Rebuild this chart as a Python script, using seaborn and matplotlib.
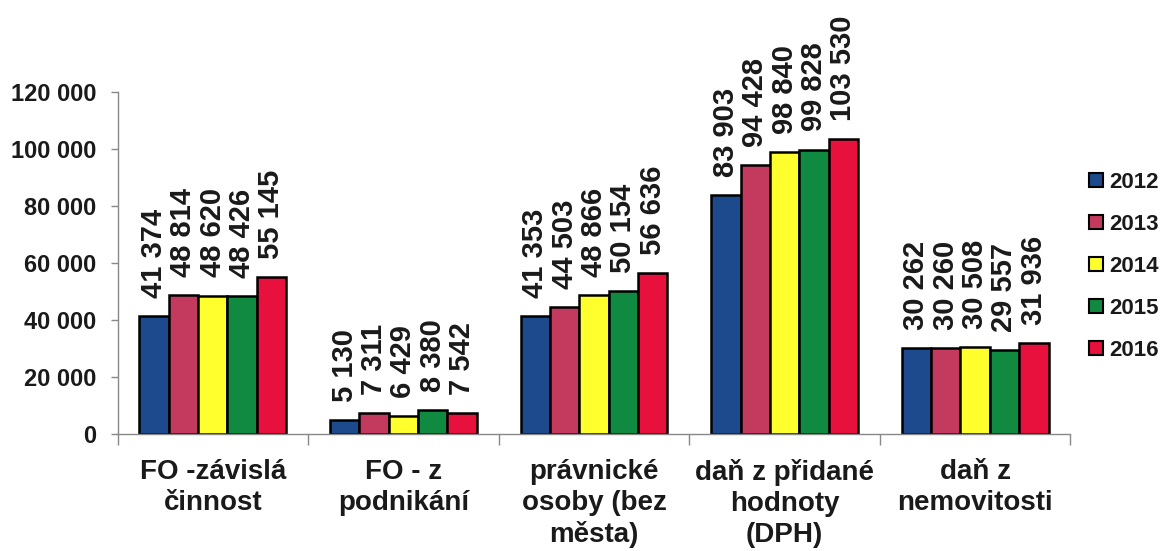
import matplotlib
matplotlib.use("Agg")
import matplotlib.pyplot as plt
import seaborn as sns
import pandas as pd
from matplotlib.ticker import FuncFormatter, FixedLocator
from matplotlib.patches import Patch

categories = ["FO -závislá\nčinnost", "FO - z\npodnikání", "právnické\nosoby (bez\nměsta)",
              "daň z přidané\nhodnoty\n(DPH)", "daň z\nnemovitosti"]
years = ["2012", "2013", "2014", "2015", "2016"]
v2012 = [41374, 5130, 41353, 83903, 30262]
v2013 = [48814, 7311, 44503, 94428, 30260]
v2014 = [48620, 6429, 48866, 98840, 30508]
v2015 = [48426, 8380, 50154, 99828, 29557]
v2016 = [55145, 7542, 56636, 103530, 31936]
colors = ["#1d4a8c", "#c4395e", "#ffff2e", "#0f8a40", "#e8103c"]

series = [v2012, v2013, v2014, v2015, v2016]
rows = []
for y, vals in zip(years, series):
    for c, v in zip(categories, vals):
        rows.append({"cat": c, "year": y, "value": v})
df = pd.DataFrame(rows)

sns.set_style("white")
plt.rcParams["font.family"] = ["Liberation Sans", "DejaVu Sans"]
txt = "#1a1a1a"

fig = plt.figure(figsize=(11.75, 5.51), dpi=100)
ax = fig.add_axes([0.100, 0.212, 0.811, 0.621])

sns.barplot(data=df, x="cat", y="value", hue="year", palette=colors,
            edgecolor="black", linewidth=1.8, width=0.77, gap=0,
            saturation=1, ax=ax, legend=False, errorbar=None)

def fmt(v):
    return f"{int(v):,}".replace(",", " ")

for cont in ax.containers:
    ax.bar_label(cont, labels=[fmt(b.get_height()) for b in cont], rotation=90,
                 padding=13, fontsize=21, fontweight="bold", color=txt)

ax.set_ylim(0, 120000)
ax.set_xlim(-0.5, 4.5)
ax.set_yticks(range(0, 120001, 20000))
ax.yaxis.set_major_formatter(FuncFormatter(lambda v, p: fmt(v)))
ax.tick_params(axis="y", labelsize=17, length=5, width=1, color="#888888",
               left=True, pad=10, labelcolor=txt)
for t in ax.get_yticklabels():
    t.set_fontweight("bold")

ax.set_xticks(range(len(categories)))
ax.set_xticklabels(categories, fontsize=20, fontweight="bold", color=txt, linespacing=1.25)
ax.tick_params(axis="x", which="major", length=0, pad=18)
ax.xaxis.set_minor_locator(FixedLocator([i - 0.5 for i in range(len(categories) + 1)]))
ax.tick_params(axis="x", which="minor", length=8, width=1, color="#888888", bottom=True)

ax.set_xlabel("")
ax.set_ylabel("")
sns.despine(ax=ax, top=True, right=True)
for s in ["left", "bottom"]:
    ax.spines[s].set_color("#888888")
    ax.spines[s].set_linewidth(1)

handles = [Patch(facecolor=c, edgecolor="black", linewidth=1.5) for c in colors]
leg = ax.legend(handles, years, loc="center left", bbox_to_anchor=(1.02, 0.49),
                frameon=False, fontsize=16, handlelength=0.6, handleheight=0.6,
                handletextpad=0.3, labelspacing=0.95, borderaxespad=0, borderpad=0)
for t in leg.get_texts():
    t.set_fontweight("bold")
    t.set_color(txt)

fig.savefig("out.png", dpi=100)
